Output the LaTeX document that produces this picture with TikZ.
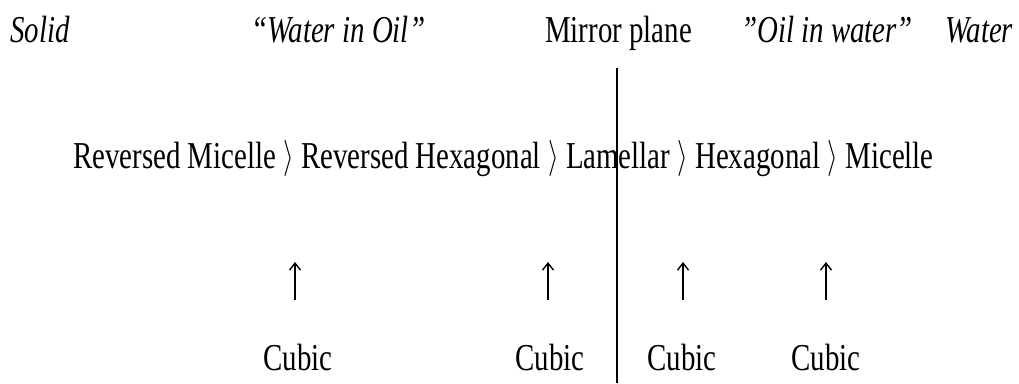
\documentclass[tikz,border=0pt]{standalone}
\usepackage{fontspec}
\setmainfont{Liberation Serif}
\usetikzlibrary{arrows.meta}
% condensed text, as in the typeset original
\newcommand\narrow[1]{\scalebox{0.76}[1]{#1}}
% angle bracket separating the phases
\newcommand\rang{\raisebox{1pt}{\resizebox*{!}{36pt}{$\rangle$}}}
\tikzset{
  lbl/.style={inner sep=0pt, anchor=base west, font=\fontsize{38}{40}\selectfont},
  lblit/.style={lbl, font=\fontsize{38}{40}\selectfont\itshape},
  cub/.style={inner sep=0pt, anchor=base, font=\fontsize{38}{40}\selectfont},
  uparrow/.style={line width=1.4pt, -{Straight Barb[length=7pt,width=11pt,line width=1.4pt]}},
  mirror/.style={line width=2.6pt}
}
\begin{document}
\begin{tikzpicture}[x=1pt,y=-1pt]
\useasboundingbox (0,0) rectangle (1019,383);
% header row
\node[lblit] (solid) at (10,42) {\narrow{Solid}};
\node[lblit] (wio) at (251,42) {\narrow{“Water in Oil”}};
\node[lbl] (mp) at (545,42) {\narrow{Mirror plane}};
\node[lblit] (oiw) at (741,42) {\narrow{"Oil in water”}};
\node[lblit] (water) at (945,42) {\narrow{Water}};
% phase sequence
\node[lbl] (seq) at (73,168) {\narrow{Reversed Micelle \rang{} Reversed Hexagonal \rang{} Lamellar \rang{} Hexagonal \rang{} Micelle}};
% mirror plane
\coordinate (mtop) at (617,68);
\coordinate (mbot) at (617,383);
\draw[mirror] (mtop) -- (mbot);
% cubic phases
\node[cub] (c1) at (298,370) {\narrow{Cubic}};
\node[cub] (c2) at (550,370) {\narrow{Cubic}};
\node[cub] (c3) at (682,370) {\narrow{Cubic}};
\node[cub] (c4) at (826,370) {\narrow{Cubic}};
\foreach \i/\x in {1/295,2/548,3/683,4/826}{
  \coordinate (a\i s) at (\x,300);
  \coordinate (a\i e) at (\x,262);
  \draw[uparrow] (a\i s) -- (a\i e);
}
\end{tikzpicture}
\end{document}
